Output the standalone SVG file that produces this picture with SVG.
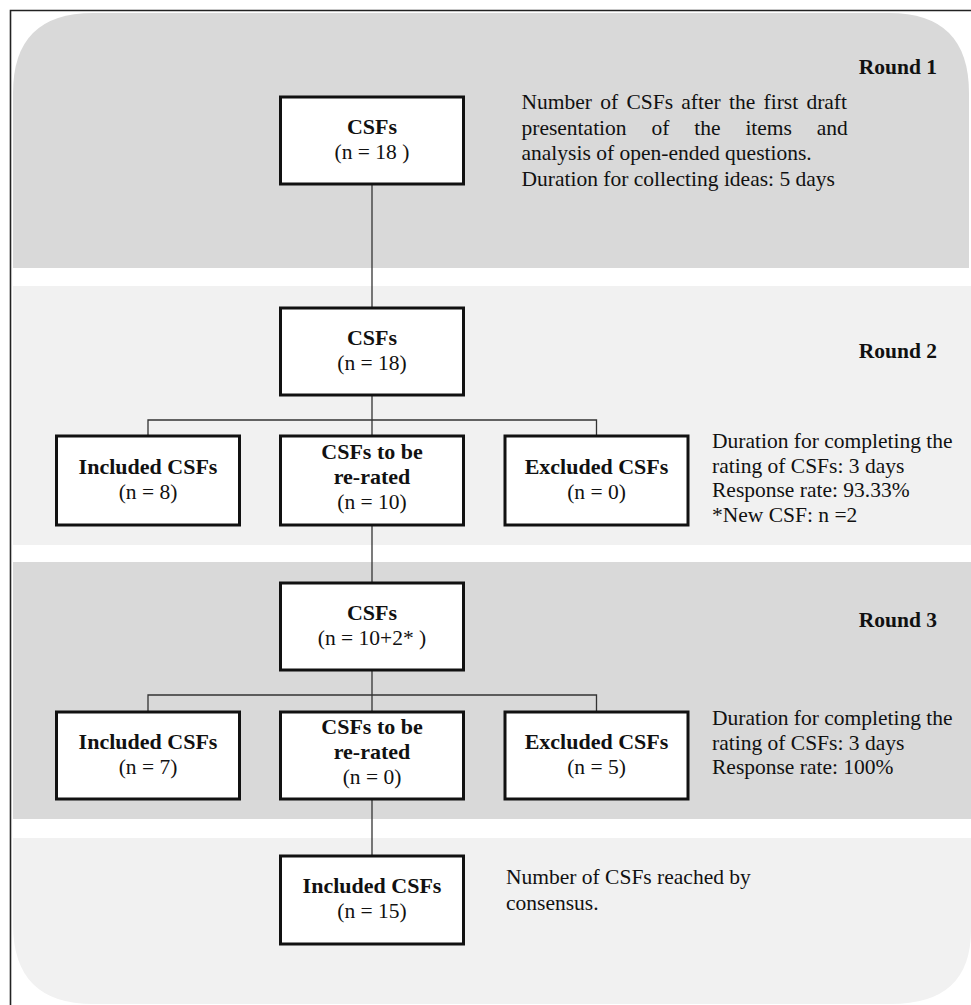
<svg xmlns="http://www.w3.org/2000/svg" width="971" height="1005" viewBox="0 0 971 1005">
<style>
  text { font-family: "Liberation Serif", "Times New Roman", serif; font-size: 21.5px; fill: #111; }
  .b { font-weight: bold; }
  .nb { font-weight: bold; font-size: 22px; }
  .c { text-anchor: middle; }
  .e { text-anchor: end; }
  .box { fill: #ffffff; stroke: #111; stroke-width: 3; }
  .con { fill: none; stroke: #333; stroke-width: 1.3; }
  .dark { fill: #d9d9d9; }
  .light { fill: #f1f1f1; }
</style>
<rect x="0" y="0" width="971" height="1005" fill="#ffffff"/>
<g id="bands">
  <path class="dark" d="M13,268 L13,93 Q13,13 93,13 L889,13 Q969,13 969,93 L969,268 Z"/>
  <rect class="light" x="13" y="286" width="958" height="259"/>
  <rect class="dark" x="13" y="562" width="958" height="257"/>
  <path class="light" d="M13,838 L971,838 L971,930 Q971,1004 891,1004 L93,1004 Q13,1004 13,924 Z"/>
</g>
<g id="frame" fill="none" stroke="#222" stroke-width="1.6">
  <path d="M10.5,1005 L10.5,10.5 L971,10.5"/>
</g>
<g id="connectors">
  <path class="con" d="M372,184 L372,308"/>
  <path class="con" d="M372,395 L372,436"/>
  <path class="con" d="M148,436 L148,420 L596.5,420 L596.5,436"/>
  <path class="con" d="M372,525 L372,583"/>
  <path class="con" d="M372,670 L372,712"/>
  <path class="con" d="M148,712 L148,695 L596.5,695 L596.5,712"/>
  <path class="con" d="M372,799 L372,856"/>
</g>
<g id="round1">
  <text class="b e" x="937" y="74">Round 1</text>
  <text x="521.5" y="109" word-spacing="2.9">Number of CSFs after the first draft</text>
  <text x="521.5" y="134.5" word-spacing="19.5">presentation of the items and</text>
  <text x="521.5" y="160">analysis of open-ended questions.</text>
  <text x="521.5" y="185.5">Duration for collecting ideas: 5 days</text>
</g>
<g id="node-r1-csfs">
  <rect class="box" x="280.5" y="97" width="183" height="87"/>
  <text class="nb c" x="372" y="133.5">CSFs</text>
  <text class="c" x="372" y="158.5">(n = 18 )</text>
</g>
<g id="round2">
  <text class="b e" x="937" y="358">Round 2</text>
  <text x="712" y="448">Duration for completing the</text>
  <text x="712" y="472.5">rating of CSFs: 3 days</text>
  <text x="712" y="497">Response rate: 93.33%</text>
  <text x="712" y="521.5">*New CSF: n =2</text>
</g>
<g id="node-r2-csfs">
  <rect class="box" x="280.5" y="308" width="183" height="87"/>
  <text class="nb c" x="372" y="344.5">CSFs</text>
  <text class="c" x="372" y="369.5">(n = 18)</text>
</g>
<g id="node-r2-included">
  <rect class="box" x="56.5" y="436" width="183" height="89"/>
  <text class="nb c" x="148" y="474">Included CSFs</text>
  <text class="c" x="148" y="499">(n = 8)</text>
</g>
<g id="node-r2-rerated">
  <rect class="box" x="280.5" y="436" width="183" height="89"/>
  <text class="nb c" x="372" y="458.5">CSFs to be</text>
  <text class="nb c" x="372" y="483.5">re-rated</text>
  <text class="c" x="372" y="508.5">(n = 10)</text>
</g>
<g id="node-r2-excluded">
  <rect class="box" x="505" y="436" width="183" height="89"/>
  <text class="nb c" x="596.5" y="474">Excluded CSFs</text>
  <text class="c" x="596.5" y="499">(n = 0)</text>
</g>
<g id="round3">
  <text class="b e" x="937" y="627">Round 3</text>
  <text x="712" y="725">Duration for completing the</text>
  <text x="712" y="749.5">rating of CSFs: 3 days</text>
  <text x="712" y="774">Response rate: 100%</text>
</g>
<g id="node-r3-csfs">
  <rect class="box" x="280.5" y="583" width="183" height="87"/>
  <text class="nb c" x="372" y="619.5">CSFs</text>
  <text class="c" x="372" y="644.5">(n = 10+2* )</text>
</g>
<g id="node-r3-included">
  <rect class="box" x="56.5" y="712" width="183" height="87"/>
  <text class="nb c" x="148" y="749">Included CSFs</text>
  <text class="c" x="148" y="774">(n = 7)</text>
</g>
<g id="node-r3-rerated">
  <rect class="box" x="280.5" y="712" width="183" height="87"/>
  <text class="nb c" x="372" y="734">CSFs to be</text>
  <text class="nb c" x="372" y="759">re-rated</text>
  <text class="c" x="372" y="784">(n = 0)</text>
</g>
<g id="node-r3-excluded">
  <rect class="box" x="505" y="712" width="183" height="87"/>
  <text class="nb c" x="596.5" y="749">Excluded CSFs</text>
  <text class="c" x="596.5" y="774">(n = 5)</text>
</g>
<g id="round4">
  <text x="506" y="884">Number of CSFs reached by</text>
  <text x="506" y="910">consensus.</text>
</g>
<g id="node-r4-included">
  <rect class="box" x="280.5" y="856" width="183" height="88"/>
  <text class="nb c" x="372" y="893">Included CSFs</text>
  <text class="c" x="372" y="918">(n = 15)</text>
</g>
</svg>
